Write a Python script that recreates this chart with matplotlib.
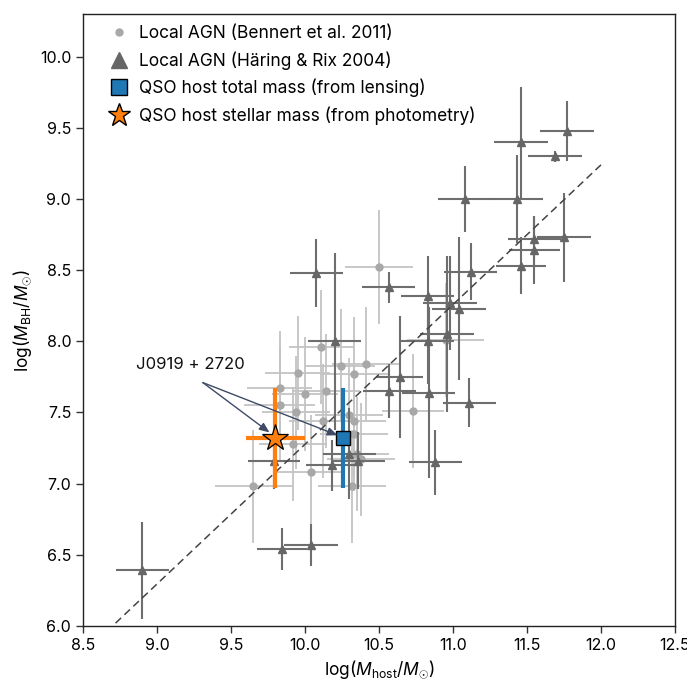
import matplotlib
matplotlib.use("Agg")
import matplotlib.pyplot as plt
from matplotlib.lines import Line2D
import numpy as np

plt.rcParams['font.family'] = ['Inter', 'DejaVu Sans']
plt.rcParams['mathtext.fontset'] = 'custom'
plt.rcParams['mathtext.rm'] = 'Inter'
plt.rcParams['mathtext.it'] = 'Inter:italic'

# Local AGN (Bennert et al. 2011)
ben_x = [10.50, 10.11, 10.24, 10.41, 9.95, 10.33, 9.83, 10.14, 10.00, 10.73, 9.94, 9.83,
         10.12, 10.30, 10.33, 9.92, 10.33, 10.35, 10.38, 10.04, 9.65, 10.32, 10.95]
ben_y = [8.52, 7.96, 7.83, 7.84, 7.78, 7.77, 7.67, 7.65, 7.63, 7.51, 7.50, 7.55,
         7.44, 7.48, 7.44, 7.28, 7.35, 7.21, 7.17, 7.08, 6.98, 6.98, 8.01]
ben_xerr = [0.23, 0.22, 0.23, 0.23, 0.22, 0.23, 0.22, 0.23, 0.22, 0.21, 0.23, 0.24,
            0.23, 0.23, 0.22, 0.23, 0.23, 0.22, 0.23, 0.23, 0.26, 0.23, 0.26]
ben_yerr = [0.40, 0.40, 0.40, 0.40, 0.40, 0.40, 0.40, 0.40, 0.40, 0.40, 0.40, 0.40,
            0.40, 0.40, 0.40, 0.40, 0.40, 0.40, 0.40, 0.40, 0.40, 0.40, 0.40]

# Local AGN (Haering & Rix 2004)
hr_x = [8.90, 9.845, 10.04, 10.076, 10.20, 10.565, 10.83, 10.83, 10.835, 10.98, 10.96,
        11.04, 11.12, 10.64, 10.57, 11.11, 10.88, 11.08, 11.43, 11.46, 11.77, 11.69,
        11.55, 11.55, 11.46, 11.75, 10.18, 10.30, 10.36, 9.79]
hr_y = [6.39, 6.54, 6.57, 8.48, 8.00, 8.38, 8.32, 8.00, 7.64, 8.27, 8.05,
        8.23, 8.49, 7.75, 7.65, 7.57, 7.15, 9.00, 9.00, 9.40, 9.48, 9.30,
        8.72, 8.64, 8.53, 8.73, 7.13, 7.21, 7.16, 7.16]
hr_xerr = [0.18, 0.17, 0.18, 0.18, 0.18, 0.18, 0.18, 0.18, 0.18, 0.18, 0.18,
           0.18, 0.18, 0.16, 0.18, 0.18, 0.18, 0.18, 0.18, 0.18, 0.18, 0.18,
           0.18, 0.17, 0.17, 0.18, 0.17, 0.18, 0.18, 0.175]
hr_yerr = [0.34, 0.15, 0.15, 0.24, 0.62, 0.11, 0.28, 0.30, 0.60, 0.33, 0.55,
           0.50, 0.20, 0.43, 0.19, 0.17, 0.23, 0.23, 0.31, 0.39, 0.21, 0.04,
           0.16, 0.24, 0.20, 0.31, 0.18, 0.32, 0.20, 0.20]

# QSO host J0919+2720
qso_y = 7.32
qso_yerr = 0.35
lens_x = 10.26
phot_x = 9.80
phot_xerr = 0.20

# dashed relation
rel_x = [8.72, 12.0]
rel_y = [6.02, 9.24]

fig = plt.figure(figsize=(6.87, 6.83), dpi=100)
ax = fig.add_axes([0.1208, 0.0835, 0.8617, 0.896])

ax.errorbar(ben_x, ben_y, xerr=ben_xerr, yerr=ben_yerr, fmt='o', color='#a8a8a8',
            ecolor='#c4c4c4', elinewidth=1.3, markersize=5, capsize=0, zorder=2)
ax.errorbar(hr_x, hr_y, xerr=hr_xerr, yerr=hr_yerr, fmt='^', color='#666666',
            ecolor='#6e6e6e', elinewidth=1.5, markersize=6, capsize=0, zorder=3)

ax.plot(rel_x, rel_y, ls=(0, (5, 3)), color='#444444', lw=1.1, zorder=4)

ax.errorbar([lens_x], [qso_y], yerr=[qso_yerr], fmt='s', color='#1f77b4', ecolor='#1f77b4',
            elinewidth=3, markersize=10, markeredgecolor='black', markeredgewidth=1.0,
            capsize=0, zorder=6)
ax.errorbar([phot_x], [qso_y], xerr=[phot_xerr], yerr=[qso_yerr], fmt='*', color='#ff7f0e',
            ecolor='#ff7f0e', elinewidth=3, markersize=20, markeredgecolor='black',
            markeredgewidth=0.9, capsize=0, zorder=6)

txt_x, txt_y = 8.86, 7.84
arrow_from = (9.31, 7.71)
arr_kw = dict(arrowstyle='-|>,head_length=0.6,head_width=0.25', color='#3e4a66', lw=1.0,
              shrinkA=0, shrinkB=0)
ax.text(txt_x, txt_y, 'J0919 + 2720', fontsize=12, va='center', ha='left', color='#111111')
ax.annotate('', xy=(9.76, 7.36), xytext=arrow_from, arrowprops=arr_kw, zorder=7)
ax.annotate('', xy=(10.22, 7.34), xytext=arrow_from, arrowprops=arr_kw, zorder=7)

ax.set_xlim(8.5, 12.5)
ax.set_ylim(6.0, 10.3)
xt = np.arange(8.5, 12.51, 0.5)
yt = np.arange(6.0, 10.01, 0.5)
ax.set_xticks(xt)
ax.set_yticks(yt)
ax.set_xticklabels([f'{v:.1f}' for v in xt])
ax.set_yticklabels([f'{v:.1f}' for v in yt])
ax.tick_params(labelsize=11.5, length=5, width=1, color='#333333')
for s in ax.spines.values():
    s.set_linewidth(1.0)
    s.set_color('#222222')

ax.set_xlabel(r'log($M_{\rm host}/M_{\odot}$)', fontsize=12.5)
ax.set_ylabel(r'log($M_{\rm BH}/M_{\odot}$)', fontsize=12.5)

labels = ['Local AGN (Bennert et al. 2011)', 'Local AGN (Häring & Rix 2004)',
          'QSO host total mass (from lensing)', 'QSO host stellar mass (from photometry)']
h = [Line2D([], [], marker='o', ls='', color='#a8a8a8', markersize=5),
     Line2D([], [], marker='^', ls='', color='#666666', markersize=11),
     Line2D([], [], marker='s', ls='', color='#1f77b4', markeredgecolor='black', markersize=11),
     Line2D([], [], marker='*', ls='', color='#ff7f0e', markeredgecolor='black', markersize=17)]
ax.legend(h, labels, loc='upper left', frameon=False, fontsize=12.5, handletextpad=0.4,
          borderaxespad=0.6, labelspacing=0.52, handlelength=1.5,
          bbox_to_anchor=(6 / 592, 1 + 6 / 612))

fig.savefig('out.png', dpi=100)
